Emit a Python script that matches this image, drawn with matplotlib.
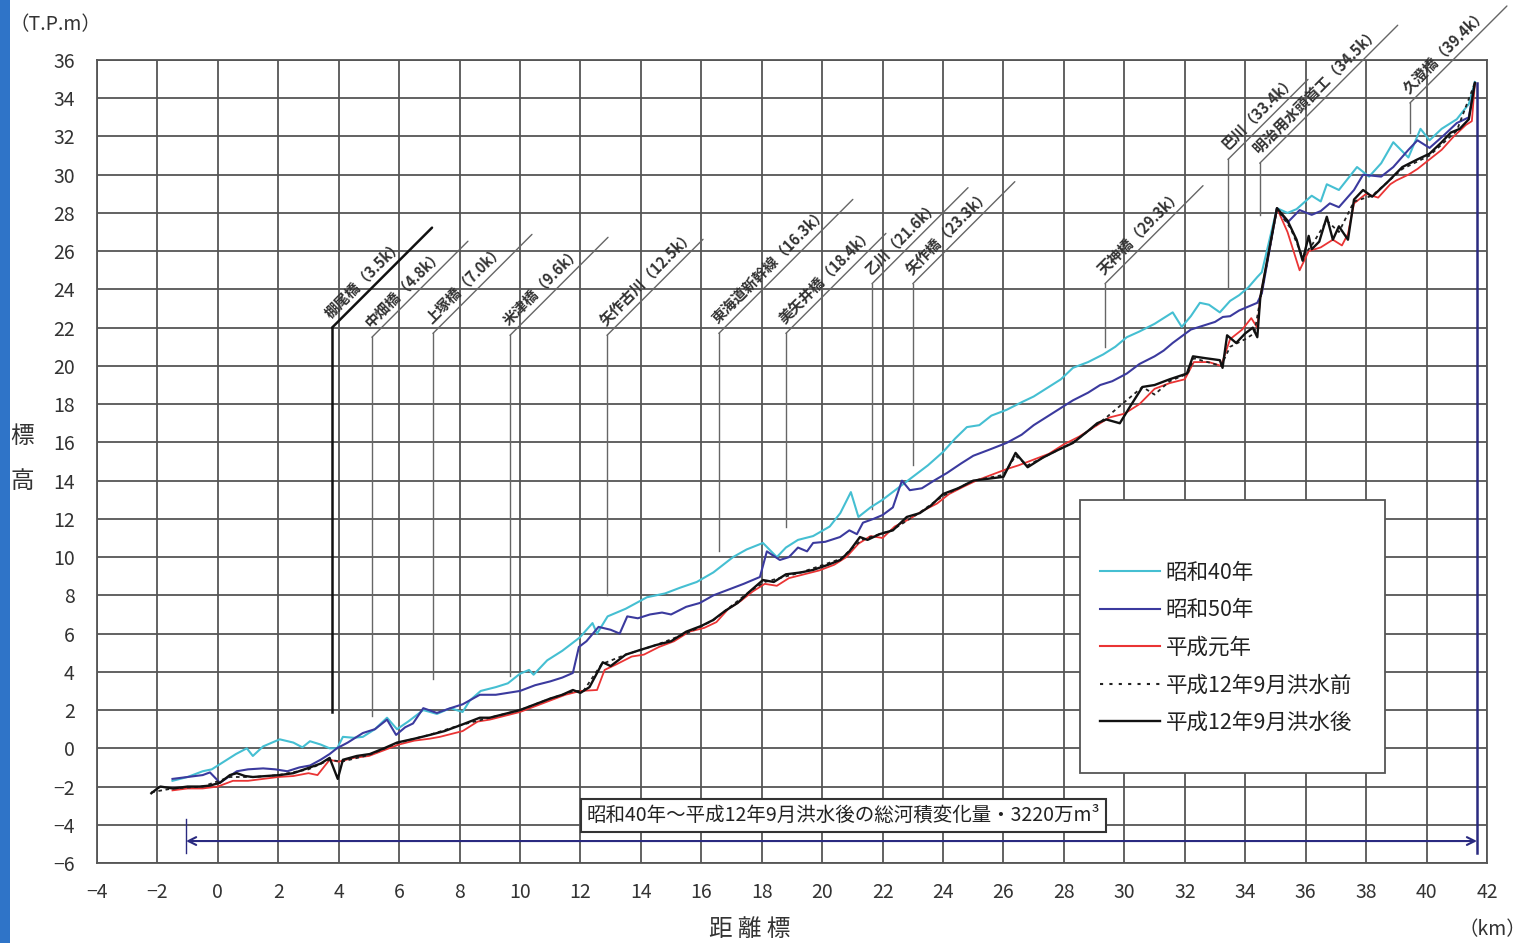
import matplotlib
matplotlib.use("Agg")
import matplotlib.pyplot as plt
from matplotlib.patches import Rectangle
from matplotlib.lines import Line2D

plt.rcParams['font.family'] = ['Noto Sans CJK JP', 'DejaVu Sans']

# 昭和40年
s40_km = [-1.5, -1.0, -0.5, -0.2, 0.2, 0.6, 0.96, 1.16, 1.5, 2.05, 2.5, 2.8, 3.05, 3.4, 3.7, 3.95,
          4.14, 4.5, 4.8, 5.2, 5.6, 5.93, 6.3, 6.8, 7.25, 7.7, 8.1, 8.34, 8.7, 9.2, 9.6, 10.0,
          10.3, 10.45, 10.9, 11.4, 11.98, 12.4, 12.55, 12.9, 13.5, 14.2, 14.8, 15.3, 15.85, 16.4,
          17.05, 17.5, 18.04, 18.5, 18.8, 19.2, 19.7, 20.25, 20.6, 20.95, 21.2, 21.6, 22.0, 22.5,
          23.0, 23.5, 24.0, 24.4, 24.79, 25.2, 25.6, 26.1, 26.6, 27.0, 27.5, 27.9, 28.3, 28.8,
          29.3, 29.7, 30.08, 30.5, 31.0, 31.3, 31.6, 31.9, 32.2, 32.5, 32.8, 33.16, 33.5, 33.8,
          34.1, 34.4, 34.55, 35.05, 35.4, 35.7, 36.2, 36.5, 36.7, 37.1, 37.4, 37.7, 38.1, 38.5,
          38.9, 39.4, 39.8, 40.1, 40.5, 41.0, 41.4, 41.6]
s40_el = [-1.7, -1.5, -1.2, -1.1, -0.7, -0.3, 0.0, -0.4, 0.1, 0.47, 0.3, 0.05, 0.37, 0.2, 0.0, 0.0,
          0.6, 0.55, 0.6, 1.0, 1.6, 1.0, 1.4, 2.0, 1.8, 2.1, 1.9, 2.5, 3.0, 3.2, 3.4, 3.9,
          4.1, 3.85, 4.6, 5.1, 5.8, 6.55, 6.0, 6.9, 7.3, 7.9, 8.1, 8.4, 8.7, 9.2,
          10.0, 10.4, 10.74, 10.0, 10.5, 10.9, 11.1, 11.6, 12.3, 13.4, 12.1, 12.6, 13.0, 13.6,
          14.2, 14.8, 15.5, 16.2, 16.8, 16.9, 17.4, 17.7, 18.1, 18.4, 18.9, 19.3, 19.9, 20.2,
          20.6, 21.0, 21.5, 21.8, 22.2, 22.5, 22.8, 22.04, 22.6, 23.3, 23.2, 22.8, 23.4, 23.7,
          24.1, 24.65, 24.9, 28.25, 28.0, 28.2, 28.9, 28.6, 29.5, 29.2, 29.8, 30.4, 29.9, 30.6,
          31.7, 30.9, 32.4, 31.8, 32.4, 32.9, 33.7, 34.85]

# 昭和50年
s50_km = [-1.5, -1.0, -0.5, -0.26, 0.07, 0.35, 0.63, 1.0, 1.5, 1.9, 2.3, 2.7, 3.05, 3.4, 3.7, 3.94,
          4.3, 4.8, 5.2, 5.6, 5.9, 6.2, 6.46, 6.8, 7.25, 7.7, 8.1, 8.67, 9.2, 9.6, 10.0, 10.5,
          11.0, 11.4, 11.75, 11.95, 12.2, 12.6, 13.0, 13.3, 13.55, 13.9, 14.3, 14.7, 15.0, 15.5,
          15.95, 16.4, 16.9, 17.4, 17.94, 18.17, 18.6, 18.9, 19.2, 19.5, 19.7, 20.1, 20.59, 20.9,
          21.15, 21.35, 21.7, 22.0, 22.34, 22.64, 22.9, 23.3, 23.7, 24.13, 24.6, 25.0, 25.5, 26.1,
          26.6, 27.0, 27.5, 27.9, 28.3, 28.8, 29.2, 29.6, 30.08, 30.5, 31.0, 31.3, 31.6, 32.2,
          32.6, 33.0, 33.26, 33.5, 33.8, 34.1, 34.4, 34.55, 35.05, 35.4, 35.8, 36.2, 36.5, 36.8,
          37.1, 37.6, 37.9, 38.5, 38.9, 39.4, 39.7, 40.1, 40.6, 41.0, 41.4, 41.6]
s50_el = [-1.6, -1.5, -1.4, -1.26, -1.8, -1.5, -1.2, -1.1, -1.05, -1.1, -1.2, -1.0, -0.9, -0.6, -0.3, 0.0,
          0.3, 0.8, 1.0, 1.5, 0.7, 1.1, 1.3, 2.1, 1.85, 2.1, 2.3, 2.8, 2.8, 2.9, 3.0, 3.3,
          3.5, 3.7, 3.94, 5.3, 5.6, 6.35, 6.2, 6.0, 6.9, 6.8, 7.0, 7.1, 7.0, 7.4,
          7.6, 8.0, 8.3, 8.6, 8.96, 10.3, 9.85, 10.0, 10.5, 10.3, 10.74, 10.8, 11.05, 11.4,
          11.2, 11.8, 12.0, 12.2, 12.6, 14.0, 13.5, 13.6, 14.0, 14.4, 14.9, 15.3, 15.6, 15.97,
          16.4, 16.9, 17.4, 17.8, 18.2, 18.6, 19.0, 19.2, 19.6, 20.1, 20.5, 20.8, 21.2, 21.9,
          22.1, 22.3, 22.56, 22.6, 22.9, 23.1, 23.3, 23.8, 28.25, 27.5, 28.15, 27.9, 28.1, 28.5,
          28.3, 29.2, 30.0, 29.9, 30.4, 31.3, 31.8, 31.4, 32.1, 32.7, 33.0, 34.8]

# 平成元年
h1_km = [-1.5, -1.0, -0.5, 0.0, 0.5, 1.0, 1.5, 2.0, 2.5, 3.0, 3.3, 3.7, 4.0, 4.5, 5.0, 5.5,
         6.0, 6.5, 7.0, 7.35, 8.1, 8.6, 9.0, 9.5, 10.0, 10.5, 11.0, 11.5, 12.0, 12.55, 12.8, 13.2,
         13.7, 14.1, 14.6, 15.1, 15.6, 16.1, 16.5, 16.9, 17.3, 17.7, 18.1, 18.5, 18.9, 19.4,
         19.9, 20.4, 20.8, 21.2, 21.6, 22.0, 22.4, 22.9, 23.3, 23.8, 24.2, 24.7, 25.1, 25.6,
         26.1, 26.5, 27.0, 27.5, 28.0, 28.5, 29.0, 29.5, 30.0, 30.5, 31.0, 31.5, 32.0, 32.3,
         32.8, 33.2, 33.5, 33.9, 34.2, 34.4, 34.5, 35.05, 35.4, 35.8, 36.1, 36.5, 36.9, 37.2,
         37.4, 37.6, 38.0, 38.4, 38.8, 39.0, 39.4, 39.7, 40.1, 40.5, 40.9, 41.3, 41.5, 41.6]
h1_el = [-2.2, -2.1, -2.1, -2.0, -1.7, -1.7, -1.6, -1.5, -1.45, -1.3, -1.4, -0.6, -0.7, -0.5, -0.4, -0.1,
         0.2, 0.4, 0.5, 0.6, 0.9, 1.4, 1.5, 1.7, 1.9, 2.2, 2.5, 2.8, 3.0, 3.05, 4.1, 4.4,
         4.8, 4.9, 5.3, 5.6, 6.1, 6.3, 6.6, 7.3, 7.7, 8.2, 8.6, 8.5, 8.9, 9.1,
         9.3, 9.6, 10.0, 10.7, 11.1, 11.0, 11.6, 12.0, 12.4, 12.8, 13.3, 13.7, 14.0, 14.3,
         14.6, 14.8, 15.1, 15.4, 15.9, 16.3, 16.8, 17.3, 17.5, 18.0, 18.8, 19.1, 19.3, 20.2,
         20.2, 20.0, 21.4, 21.9, 22.5, 22.0, 23.6, 28.25, 27.0, 25.0, 26.0, 26.2, 26.6, 26.3,
         26.9, 28.5, 29.0, 28.8, 29.5, 29.7, 30.0, 30.3, 30.8, 31.3, 32.0, 32.6, 32.8, 34.8]

# 平成12年9月洪水前
h12a_km = [-2.2, -1.5, -0.5, 0.4, 1.2, 2.0, 3.0, 3.7, 4.1, 5.0, 6.0, 7.0, 8.0, 9.0, 10.0, 11.0,
           11.8, 12.1, 12.7, 13.5, 14.5, 15.5, 16.4, 17.6, 18.1, 19.3, 20.6, 21.3, 22.3, 23.2,
           24.0, 25.0, 26.0, 26.4, 26.8, 28.3, 29.4, 30.6, 31.0, 31.5, 32.1, 32.3, 33.2, 33.5,
           34.0, 34.3, 34.5, 35.05, 35.5, 35.9, 36.2, 36.7, 37.1, 37.6, 38.2, 39.2, 40.1, 41.0, 41.6]
h12a_el = [-2.3, -2.1, -2.0, -1.5, -1.5, -1.4, -1.1, -0.6, -0.7, -0.35, 0.3, 0.7, 1.2, 1.6, 2.0, 2.6,
           3.0, 3.0, 4.4, 4.9, 5.4, 6.0, 6.7, 8.2, 8.7, 9.2, 9.9, 10.9, 11.4, 12.3,
           13.2, 14.0, 14.3, 15.3, 14.8, 16.0, 17.3, 18.9, 18.5, 19.2, 19.6, 20.4, 20.0, 21.0,
           21.4, 21.7, 23.5, 28.2, 27.2, 25.7, 26.3, 27.6, 27.0, 28.6, 28.9, 30.3, 31.0, 32.3, 34.8]

# 平成12年9月洪水後
h12b_km = [-2.2, -2.0, -1.9, -1.48, -1.0, -0.6, -0.26, 0.07, 0.4, 0.63, 0.9, 1.16, 1.6, 2.05, 2.5, 3.05,
           3.4, 3.7, 3.97, 4.14, 4.6, 5.03, 5.5, 5.93, 6.5, 7.02, 7.5, 8.1, 8.67, 9.0, 9.5, 10.0,
           10.5, 11.0, 11.4, 11.75, 12.0, 12.3, 12.74, 13.0, 13.5, 13.97, 14.5, 15.0, 15.5, 16.0,
           16.38, 16.8, 17.2, 17.6, 18.04, 18.4, 18.8, 19.3, 19.7, 20.2, 20.6, 20.9, 21.25, 21.5,
           21.9, 22.34, 22.8, 23.23, 23.6, 24.0, 24.5, 25.0, 25.5, 26.0, 26.4, 26.8, 27.3, 27.8,
           28.3, 28.8, 29.1, 29.4, 29.85, 30.2, 30.6, 31.0, 31.5, 32.07, 32.27, 32.7, 33.16, 33.25,
           33.4, 33.7, 34.0, 34.25, 34.4, 34.5, 35.05, 35.4, 35.7, 35.9, 36.1, 36.2, 36.45, 36.7,
           36.9, 37.1, 37.4, 37.6, 37.9, 38.2, 38.7, 39.2, 39.7, 40.1, 40.5, 40.8, 41.1, 41.4, 41.6]
h12b_el = [-2.35, -2.1, -2.0, -2.1, -2.0, -2.0, -1.95, -1.8, -1.4, -1.3, -1.45, -1.5, -1.45, -1.4, -1.3, -1.0,
           -0.8, -0.5, -1.6, -0.6, -0.4, -0.3, 0.0, 0.3, 0.5, 0.7, 0.9, 1.25, 1.6, 1.6, 1.8, 2.0,
           2.3, 2.6, 2.8, 3.05, 2.9, 3.2, 4.5, 4.3, 4.9, 5.14, 5.4, 5.6, 6.1, 6.4,
           6.7, 7.2, 7.6, 8.2, 8.8, 8.7, 9.1, 9.2, 9.33, 9.6, 9.85, 10.3, 11.05, 10.9,
           11.2, 11.4, 12.1, 12.3, 12.7, 13.3, 13.6, 14.0, 14.1, 14.2, 15.45, 14.7, 15.2, 15.6,
           15.97, 16.6, 17.0, 17.2, 17.0, 17.9, 18.9, 19.0, 19.3, 19.6, 20.5, 20.4, 20.3, 19.9,
           21.6, 21.2, 21.7, 22.0, 21.5, 23.6, 28.25, 27.6, 26.6, 25.5, 26.8, 26.1, 26.5, 27.8,
           26.6, 27.3, 26.6, 28.7, 29.2, 28.85, 29.6, 30.4, 30.8, 31.1, 31.7, 32.2, 32.4, 32.9, 34.8]

# bridge / structure labels
bridge_names = ['棚尾橋（3.5k）', '中畑橋（4.8k）', '上塚橋（7.0k）', '米津橋（9.6k）', '矢作古川（12.5k）',
                '東海道新幹線（16.3k）', '美矢井橋（18.4k）', '乙川（21.6k）', '矢作橋（23.3k）',
                '天神橋（29.3k）', '巴川（33.4k）', '明治用水頭首工（34.5k）', '久澄橋（39.4k）']
bridge_x = [3.78, 5.1, 7.12, 9.67, 12.88, 16.58, 18.8, 21.65, 23.0, 29.36, 33.43, 34.48, 39.45]
bridge_low = [1.9, 1.7, 3.6, 3.8, 8.0, 10.3, 11.6, 12.5, 14.8, 21.0, 24.1, 27.9, 32.2]
bridge_top = [22.0, 21.5, 21.7, 21.6, 21.6, 21.7, 21.7, 24.3, 24.3, 24.3, 30.8, 30.6, 33.75]
bridge_diag = [100, 96, 99, 98, 96, 134, 100, 96, 102, 98, 80, 138, 97]

fig = plt.figure(figsize=(15.24, 9.43), dpi=100)
ax = fig.add_axes([0.0636, 0.0848, 0.9121, 0.8516])

fig.patches.append(Rectangle((0, 0), 10 / 1524, 1, transform=fig.transFigure,
                             facecolor='#2f74c8', edgecolor='none'))

ax.plot(s40_km, s40_el, color='#45bfd2', lw=1.5, zorder=3)
ax.plot(s50_km, s50_el, color='#3b3a9e', lw=1.5, zorder=3)
ax.plot(h1_km, h1_el, color='#ea3434', lw=1.3, zorder=3)
ax.plot(h12a_km, h12a_el, color='#222222', lw=1.3, linestyle=(0, (2, 2)), zorder=3)
ax.plot(h12b_km, h12b_el, color='#111111', lw=1.7, zorder=4)

ax.set_xlim(-4, 42)
ax.set_ylim(-6, 36)
ax.set_xticks(range(-4, 43, 2))
ax.set_yticks(range(-6, 37, 2))
ax.grid(True, color='#555555', lw=1.3)
ax.set_axisbelow(True)
for sp in ax.spines.values():
    sp.set_color('#555555')
    sp.set_linewidth(1.3)
ax.tick_params(length=0, labelsize=14, labelcolor='#333333')
ax.tick_params(axis='x', pad=14)
ax.tick_params(axis='y', pad=16)

# bridge annotations
for i in range(len(bridge_names)):
    c = '#111111' if i == 0 else '#666666'
    w = 1.8 if i == 0 else 1.0
    ax.plot([bridge_x[i], bridge_x[i]], [bridge_low[i], bridge_top[i]], color=c, lw=w, zorder=2)
    ax.annotate('', xy=(bridge_x[i], bridge_top[i]), xytext=(bridge_diag[i], bridge_diag[i]),
                textcoords='offset pixels', annotation_clip=False,
                arrowprops=dict(arrowstyle='-', color=c, lw=w, shrinkA=0, shrinkB=0))
    ax.annotate(bridge_names[i], xy=(bridge_x[i], bridge_top[i]), xytext=(1, 7),
                textcoords='offset pixels', rotation=45, rotation_mode='anchor',
                ha='left', va='bottom', fontsize=10.5, fontweight='bold', color='#333333',
                annotation_clip=False)

# total change arrow
ax.annotate('', xy=(-1.05, -4.85), xytext=(41.67, -4.85),
            arrowprops=dict(arrowstyle='<->', color='#2a2a80', lw=1.5, mutation_scale=14,
                            shrinkA=0, shrinkB=0))
ax.plot([-1.05, -1.05], [-3.7, -5.5], color='#2a2a80', lw=1.0)
ax.plot([41.67, 41.67], [-5.5, 34.8], color='#2a2a80', lw=1.8, zorder=5)
ax.text(20.7, -3.5, '昭和40年～平成12年9月洪水後の総河積変化量・3220万m³', ha='center', va='center',
        fontsize=14, color='#222222', zorder=6,
        bbox=dict(boxstyle='square,pad=0.3', fc='white', ec='#333333', lw=1.5))

# legend
ax.add_patch(Rectangle((0.707, 0.112), 0.22, 0.34, transform=ax.transAxes, facecolor='white',
                       edgecolor='#555555', lw=1.3, zorder=6))
handles = [Line2D([], [], color='#45bfd2', lw=1.5),
           Line2D([], [], color='#3b3a9e', lw=1.5),
           Line2D([], [], color='#ea3434', lw=1.5),
           Line2D([], [], color='#222222', lw=1.5, linestyle=(0, (1.5, 3))),
           Line2D([], [], color='#111111', lw=1.7)]
labels = ['昭和40年', '昭和50年', '平成元年', '平成12年9月洪水前', '平成12年9月洪水後']
leg = ax.legend(handles, labels, loc='center left', bbox_to_anchor=(0.7216, 0.268),
                frameon=False, fontsize=15.5, handlelength=2.8, handletextpad=0.25,
                labelspacing=0.72, borderpad=0, borderaxespad=0)
leg.set_zorder(7)
for t in leg.get_texts():
    t.set_color('#222222')

fig.text(55 / 1524, 1 - 25 / 943, '（T.P.m）', ha='center', va='center', fontsize=14, color='#333333')
fig.text(22 / 1524, 1 - 437 / 943, '標', ha='center', va='center', fontsize=17, color='#333333')
fig.text(22 / 1524, 1 - 482 / 943, '高', ha='center', va='center', fontsize=17, color='#333333')
fig.text(750 / 1524, 1 - 930 / 943, '距 離 標', ha='center', va='center', fontsize=17, color='#333333')
fig.text(1492 / 1524, 1 - 930 / 943, '（km）', ha='center', va='center', fontsize=14, color='#333333')

fig.savefig('out.png', dpi=100)
